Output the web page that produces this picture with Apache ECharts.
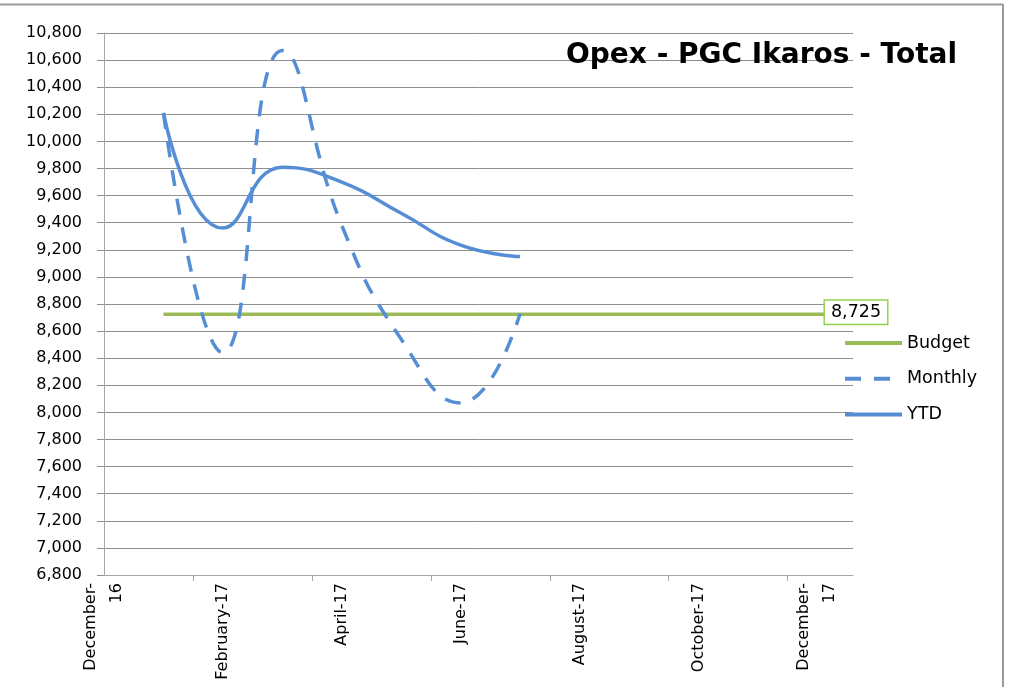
<!DOCTYPE html>
<html>
<head>
<meta charset="utf-8">
<title>Opex - PGC Ikaros - Total</title>
<script src="https://cdn.jsdelivr.net/npm/echarts@6/dist/echarts.min.js"></script>
<style>
    html, body { margin: 0; padding: 0; background: #fff; }
    #chart { width: 1017px; height: 687px; }
</style>
</head>
<body>
<div id="chart"></div>
<script>
    // months of data, Jan-17 .. Jul-17
    var months = ['January-17', 'February-17', 'March-17', 'April-17', 'May-17', 'June-17', 'July-17'];
    var monthly = [10210, 8440, 10670, 9380, 8540, 8070, 8730];
    var ytd = [10210, 9360, 9810, 9700, 9470, 9235, 9150];
    var budget = 8725;
    // x axis labels, every 2 months starting Dec-16
    var tickLabels = ['December-\n16', 'February-17', 'April-17', 'June-17', 'August-17', 'October-17', 'December-\n17'];

    var FONT = '"DejaVu Sans", sans-serif';
    var BLUE = '#558ED5';
    var GREEN = '#9BBB59';

    // x axis is in months: Dec-16 = 0, Jan-17 = 1 ...
    // labels sit on the month, tick marks sit between months
    var xMax = 12.6;
    var labelPos = tickLabels.map(function (t, i) { return i * 2; });
    var tickPos = labelPos.slice(1).map(function (p) { return p - 0.5; });

    function fmt(v) {
        return String(v).replace(/\B(?=(\d{3})+(?!\d))/g, ',');
    }

    var monthlyData = monthly.map(function (v, i) { return [i + 1, v]; });
    var ytdData = ytd.map(function (v, i) { return [i + 1, v]; });
    var budgetData = [[1, budget], [xMax, budget]];

    var myChart = echarts.init(document.getElementById('chart'));

    var option = {
        animation: false,
        textStyle: { fontFamily: FONT },
        title: {
            text: 'Opex - PGC Ikaros - Total',
            left: 566,
            top: 42,
            padding: 0,
            textStyle: {
                fontFamily: FONT,
                fontSize: 28,
                fontWeight: 'bold',
                color: '#000',
                lineHeight: 28
            }
        },
        legend: {
            orient: 'vertical',
            left: 843,
            top: 333,
            padding: 0,
            itemWidth: 57,
            itemHeight: 14,
            itemGap: 15.8,
            data: ['Budget', 'Monthly', 'YTD'],
            itemStyle: { opacity: 0 },
            lineStyle: { width: 4 },
            textStyle: {
                fontFamily: FONT,
                fontSize: 17.5,
                lineHeight: 20,
                color: '#000'
            }
        },
        grid: {
            left: 104,
            right: 164,
            top: 33,
            bottom: 112
        },
        xAxis: {
            type: 'value',
            min: 0,
            max: xMax,
            axisLine: { lineStyle: { color: '#A6A6A6', width: 1 } },
            splitLine: { show: false },
            axisTick: {
                show: true,
                length: 6,
                customValues: tickPos,
                lineStyle: { color: '#A6A6A6' }
            },
            axisLabel: {
                rotate: 90,
                margin: 8,
                fontFamily: FONT,
                fontSize: 16,
                lineHeight: 26,
                color: '#000',
                customValues: labelPos,
                formatter: function (v) {
                    var i = labelPos.indexOf(v);
                    return i < 0 ? '' : tickLabels[i];
                }
            }
        },
        yAxis: {
            type: 'value',
            min: 6800,
            max: 10800,
            interval: 200,
            axisLine: { show: true, lineStyle: { color: '#A6A6A6', width: 1 } },
            axisTick: { show: true, length: 7, lineStyle: { color: '#8F8F8F' } },
            splitLine: { lineStyle: { color: '#8F8F8F', width: 1 } },
            axisLabel: {
                margin: 22,
                fontFamily: FONT,
                fontSize: 16,
                color: '#000',
                formatter: function (v) { return fmt(v); }
            }
        },
        series: [
            {
                name: 'Budget',
                type: 'line',
                symbol: 'none',
                data: budgetData,
                lineStyle: { color: GREEN, width: 3.5 },
                itemStyle: { color: GREEN },
                endLabel: {
                    show: true,
                    formatter: function (p) { return fmt(p.value[1]); },
                    align: 'center',
                    verticalAlign: 'middle',
                    distance: 0,
                    offset: [3, -2],
                    fontFamily: FONT,
                    fontSize: 17.5,
                    color: '#000',
                    backgroundColor: '#fff',
                    borderColor: '#92D050',
                    borderWidth: 1.5,
                    padding: [3, 6, 2, 6]
                }
            },
            {
                name: 'Monthly',
                type: 'line',
                smooth: 0.5,
                symbol: 'none',
                data: monthlyData,
                lineStyle: { color: BLUE, width: 3.5, type: [16, 13] },
                itemStyle: { color: BLUE }
            },
            {
                name: 'YTD',
                type: 'line',
                smooth: 0.5,
                symbol: 'none',
                data: ytdData,
                lineStyle: { color: BLUE, width: 3.5 },
                itemStyle: { color: BLUE }
            }
        ],
        graphic: [
            {
                type: 'line',
                shape: { x1: 0, y1: 4.5, x2: 1003, y2: 4.5 },
                style: { stroke: '#9A9A9A', lineWidth: 2 }
            },
            {
                type: 'line',
                shape: { x1: 1003, y1: 4, x2: 1003, y2: 687 },
                style: { stroke: '#9A9A9A', lineWidth: 2 }
            }
        ]
    };

    myChart.setOption(option);
</script>
</body>
</html>
